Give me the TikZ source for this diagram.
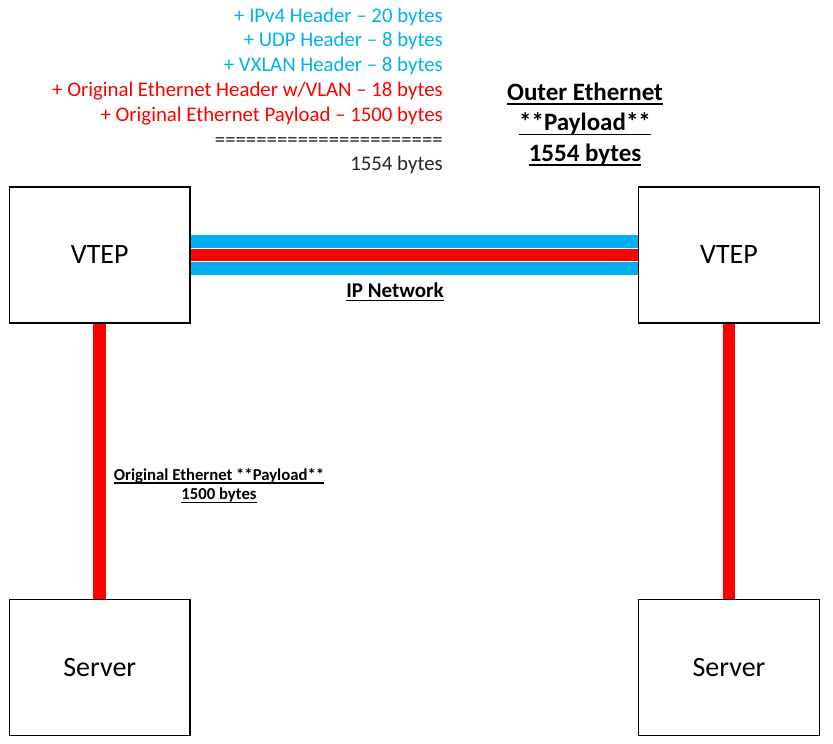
\documentclass[tikz,border=0pt]{standalone}
\usepackage{fontspec}
\setmainfont{Carlito}
\definecolor{vxblue}{HTML}{00B0F0}
\definecolor{vxred}{HTML}{FF0000}
\begin{document}
\begin{tikzpicture}[x=1pt,y=-1pt,
  box/.style={draw=black,line width=1.4pt,minimum width=180.5pt,minimum height=136pt,inner sep=0pt,font=\fontsize{28}{32}\selectfont},
  sumtxt/.style={inner sep=0pt,anchor=base east,font=\fontsize{20.8}{25}\selectfont},
  bigbold/.style={inner sep=0pt,anchor=base,font=\fontsize{25}{30}\selectfont\bfseries},
  midbold/.style={inner sep=0pt,anchor=base,font=\fontsize{21}{25}\selectfont\bfseries},
  smallbold/.style={inner sep=0pt,anchor=base,font=\fontsize{16.7}{20}\selectfont\bfseries},
  bar/.style={line width=12.7pt,line cap=butt},
]
\useasboundingbox (0,0) rectangle (833,744);

% boxes
\node[box] (vl) at (99.75,255) {VTEP};
\node[box] (vr) at (729,255) {VTEP};
\node[box] (sl) at (99.75,667.5) {Server};
\node[box] (sr) at (729,667.5) {Server};

% bars
\draw[bar,vxblue] ([yshift=13.4pt]vl.east) -- ([yshift=13.4pt]vr.west);
\draw[bar,vxred] (vl.east) -- (vr.west);
\draw[bar,vxblue] ([yshift=-13.4pt]vl.east) -- ([yshift=-13.4pt]vr.west);
\draw[bar,vxred] (vl.south) -- (sl.north);
\draw[bar,vxred] (vr.south) -- (sr.north);

% summary text
\node[sumtxt,text=vxblue] (s1) at (443,22) {+ IPv4 Header – 20 bytes};
\node[sumtxt,text=vxblue] (s2) at (443,46.8) {+ UDP Header – 8 bytes};
\node[sumtxt,text=vxblue] (s3) at (443,71.6) {+ VXLAN Header – 8 bytes};
\node[sumtxt,text=vxred] (s4) at (443,96.4) {+ Original Ethernet Header w/VLAN – 18 bytes};
\node[sumtxt,text=vxred] (s5) at (443,121.2) {+ Original Ethernet Payload – 1500 bytes};
\node[sumtxt,text=black!85] (s6) at (443,146) {======================};
\node[sumtxt,text=black!85] (s7) at (443,170.8) {1554 bytes};

% outer ethernet label
\node[bigbold] (o1) at (585,100) {Outer Ethernet};
\node[bigbold] (o2) at (585,130.5) {**Payload**};
\node[bigbold] (o3) at (585,161) {1554 bytes};
\foreach \n in {o1,o2,o3}
  \draw[line width=1.7pt] ([yshift=-4pt]\n.base west) -- ([yshift=-4pt]\n.base east);

% IP network
\node[midbold] (ip) at (395,297) {IP Network};
\draw[line width=1.4pt] ([yshift=-3.5pt]ip.base west) -- ([yshift=-3.5pt]ip.base east);

% original payload label
\node[smallbold] (p1) at (219,480) {Original Ethernet **Payload**};
\node[smallbold] (p2) at (219,499.5) {1500 bytes};
\foreach \n in {p1,p2}
  \draw[line width=1.1pt] ([yshift=-3pt]\n.base west) -- ([yshift=-3pt]\n.base east);
\end{tikzpicture}
\end{document}
